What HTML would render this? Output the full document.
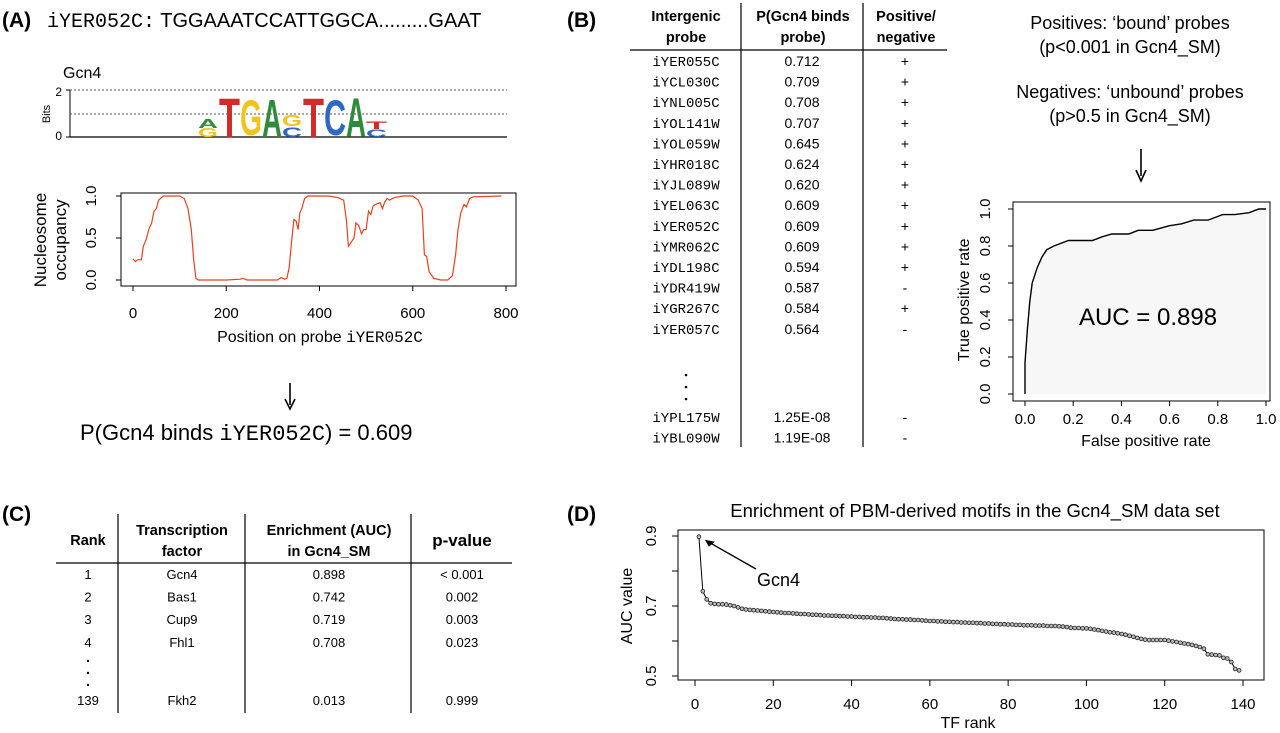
<!DOCTYPE html>
<html><head><meta charset="utf-8">
<style>
html,body{margin:0;padding:0;background:#fff;}
svg{display:block;font-family:"Liberation Sans",Arial,sans-serif;}
.mono{font-family:"Liberation Mono","DejaVu Sans Mono",monospace;}
.b{font-weight:bold;}
</style></head>
<body>
<svg id="fig" width="1280" height="733" viewBox="0 0 1280 733" xmlns="http://www.w3.org/2000/svg">
<!-- Panel A header -->
<g>
<text x="2" y="27" font-size="21" class="b">(A)</text>
<text x="47" y="27" font-size="20"><tspan class="mono">iYER052C:</tspan> TGGAAATCCATTGGCA.........GAAT</text>
<text x="63" y="78" font-size="16">Gcn4</text>
<g id="logo">
<line x1="70" y1="90" x2="70" y2="137" stroke="#000" stroke-width="1"/>
<line x1="70" y1="90" x2="507" y2="90" stroke="#555" stroke-dasharray="2,2"/>
<line x1="70" y1="114" x2="507" y2="114" stroke="#555" stroke-dasharray="2,2"/>
<line x1="70" y1="137" x2="507" y2="137" stroke="#000" stroke-width="1.2"/>
<line x1="66" y1="90" x2="70" y2="90" stroke="#000"/><line x1="66" y1="137" x2="70" y2="137" stroke="#000"/>
<text x="62" y="96" font-size="12" text-anchor="end">2</text>
<text x="62" y="140" font-size="12" text-anchor="end">0</text>
<text transform="translate(50,114) rotate(-90)" font-size="11" text-anchor="middle">Bits</text>
</g>
<g id="nuc"></g>
<text x="289" y="370" font-size="0"> </text>
<line x1="290" y1="383" x2="290" y2="405" stroke="#000" stroke-width="1.6"/>
<path d="M285,399 L290,409 L295,399" fill="none" stroke="#000" stroke-width="1.6"/>
<text x="80" y="440" font-size="22">P(Gcn4 binds <tspan class="mono">iYER052C</tspan>) = 0.609</text>
</g>

<!-- Panel B -->
<g id="panelB">
<text x="567" y="27" font-size="21" class="b">(B)</text>
<g font-size="14.5" class="b" text-anchor="middle">
<text x="686" y="21">Intergenic</text><text x="686" y="42">probe</text>
<text x="803" y="21">P(Gcn4 binds</text><text x="803" y="42">probe)</text>
<text x="906" y="21">Positive/</text><text x="906" y="42">negative</text>
</g>
<line x1="630" y1="50" x2="947" y2="50" stroke="#000" stroke-width="1.2"/>
<line x1="741" y1="3" x2="741" y2="447" stroke="#000" stroke-width="1.2"/>
<line x1="863" y1="3" x2="863" y2="447" stroke="#000" stroke-width="1.2"/>
<g id="tableB"></g>
<g font-size="18" text-anchor="middle">
<text x="1130" y="29">Positives: ‘bound’ probes</text>
<text x="1130" y="53">(p&lt;0.001 in Gcn4_SM)</text>
<text x="1130" y="98">Negatives: ‘unbound’ probes</text>
<text x="1130" y="122">(p&gt;0.5 in Gcn4_SM)</text>
</g>
<line x1="1141" y1="149" x2="1141" y2="176" stroke="#000" stroke-width="1.6"/>
<path d="M1136,170 L1141,181 L1146,170" fill="none" stroke="#000" stroke-width="1.6"/>
<g id="roc"></g>
</g>

<!-- Panel C -->
<g>
<text x="2" y="521" font-size="21" class="b">(C)</text>
<g font-size="14.5" class="b" text-anchor="middle">
<text x="88" y="545">Rank</text>
<text x="182" y="535">Transcription</text><text x="182" y="556">factor</text>
<text x="329" y="535">Enrichment (AUC)</text><text x="329" y="556">in Gcn4_SM</text>
<text x="462" y="546" font-size="17">p-value</text>
</g>
<line x1="56" y1="563" x2="512" y2="563" stroke="#000" stroke-width="1.2"/>
<line x1="118" y1="514" x2="118" y2="713" stroke="#000" stroke-width="1.2"/>
<line x1="245" y1="514" x2="245" y2="713" stroke="#000" stroke-width="1.2"/>
<line x1="411" y1="514" x2="411" y2="713" stroke="#000" stroke-width="1.2"/>
<g id="tableC" font-size="13" text-anchor="middle"></g>
</g>

<!-- Panel D -->
<g>
<text x="567" y="521" font-size="21" class="b">(D)</text>
<text x="975" y="517" font-size="18.5" text-anchor="middle">Enrichment of PBM-derived motifs in the Gcn4_SM data set</text>
<g id="dplot"></g>
</g>
</svg>
<script>
const NS='http://www.w3.org/2000/svg';
function mk(tag,attrs,parent,txt){const e=document.createElementNS(NS,tag);for(const k in attrs)e.setAttribute(k,attrs[k]);if(txt!==undefined)e.textContent=txt;parent.appendChild(e);return e;}

// ---------- Panel A: logo ----------
const logoChars=['A','G','T','G','A','G','C','T','C','A','T','C'];
const logoColors={A:'#2f8a3b',C:'#2e67c4',G:'#f2c31c',T:'#d32a27'};
const logoX0=[198,198,219,240,262,282,282,303,324,346,366,366];
const logoW=[20,20,21,22,20,20,20,21,22,20,21,21];
const logoTop=[119,128,97,99,98,115,127,97,99,97,121,129];
const logoBot=[128,137,137,135,137,126,137,137,135,137,129,137];
const logo=document.getElementById('logo');
for(let i=0;i<logoChars.length;i++){
  const h=logoBot[i]-logoTop[i];
  const fs=h/0.72;
  const t=mk('text',{x:0,y:0,'font-size':fs.toFixed(2),'font-weight':'bold',fill:logoColors[logoChars[i]],textLength:logoW[i],lengthAdjust:'spacingAndGlyphs',transform:`translate(${logoX0[i]},${logoBot[i]})`},logo,logoChars[i]);
  
  
}

// ---------- Panel A: nucleosome occupancy ----------
const nucPos=[0,5,10,18,22,28,35,40,45,50,55,65,100,110,118,125,130,135,140,200,230,236,245,310,318,325,330,335,340,345,350,354,358,362,368,375,420,440,452,458,462,468,474,478,484,490,495,500,505,510,515,520,530,535,540,545,550,560,580,600,612,620,625,630,635,645,660,675,685,692,697,703,710,715,722,730,790];
const nucOcc=[0.25,0.22,0.24,0.24,0.4,0.48,0.62,0.68,0.82,0.85,0.95,1.0,1.0,0.97,0.85,0.6,0.25,0.02,0.0,0.0,0.01,0.02,0.0,0.0,0.03,0.01,0.02,0.15,0.45,0.72,0.7,0.6,0.8,0.85,0.97,1.0,1.0,0.98,0.95,0.7,0.4,0.45,0.5,0.68,0.65,0.55,0.6,0.6,0.82,0.78,0.88,0.9,0.92,0.85,0.93,0.97,0.95,0.98,1.0,1.0,0.95,0.85,0.3,0.28,0.1,0.02,0.0,0.0,0.05,0.3,0.6,0.8,0.9,0.87,0.97,0.99,1.0];
const nucXTicks=[0,200,400,600,800];
const nucYTicks=[0.0,0.5,1.0];
(function(){
  const g=document.getElementById('nuc');
  const L=121,R=516,T=193,B=286;
  const sx=v=>133+(v/800)*(506-133);
  const sy=v=>280-(v)*(280-196);
  mk('rect',{x:L,y:T,width:R-L,height:B-T,fill:'none',stroke:'#000','stroke-width':1},g);
  let d='';nucPos.forEach((p,i)=>{d+=(i?'L':'M')+sx(p).toFixed(1)+','+sy(nucOcc[i]).toFixed(1);});
  const ln=mk('path',{d:d,fill:'none',stroke:'#e8411e','stroke-width':1.2},g);
  
  
  nucXTicks.forEach(v=>{mk('line',{x1:sx(v),y1:B,x2:sx(v),y2:B+5,stroke:'#000'},g);mk('text',{x:sx(v),y:318,'font-size':15,'text-anchor':'middle'},g,String(v));});
  nucYTicks.forEach(v=>{mk('line',{x1:L,y1:sy(v),x2:L-5,y2:sy(v),stroke:'#000'},g);mk('text',{transform:`translate(96,${sy(v)}) rotate(-90)`,'font-size':15,'text-anchor':'middle'},g,v.toFixed(1));});
  mk('line',{x1:sx(0),y1:B+5,x2:sx(800),y2:B+5,stroke:'#fff','stroke-width':0},g);
  const xl=mk('text',{x:320,y:342,'font-size':16,'text-anchor':'middle'},g);
  xl.innerHTML='Position on probe <tspan font-family="Liberation Mono, monospace">iYER052C</tspan>';
  
  
  mk('text',{transform:'translate(46,240) rotate(-90)','font-size':17,'text-anchor':'middle'},g,'Nucleosome');
  mk('text',{transform:'translate(66,240) rotate(-90)','font-size':17,'text-anchor':'middle'},g,'occupancy');
})();

// ---------- Panel B: table ----------
const probes=['iYER055C','iYCL030C','iYNL005C','iYOL141W','iYOL059W','iYHR018C','iYJL089W','iYEL063C','iYER052C','iYMR062C','iYDL198C','iYDR419W','iYGR267C','iYER057C'];
const probVals=['0.712','0.709','0.708','0.707','0.645','0.624','0.620','0.609','0.609','0.609','0.594','0.587','0.584','0.564'];
const signs=['+','+','+','+','+','+','+','+','+','+','+','-','+','-'];
const tailProbes=['iYPL175W','iYBL090W'];
const tailVals=['1.25E-08','1.19E-08'];
const tailSigns=['-','-'];
(function(){
  const g=document.getElementById('tableB');
  const row=(y,p,v,s)=>{
    mk('text',{x:686,y:y,'font-size':14,'text-anchor':'middle','font-family':'Liberation Mono, monospace'},g,p);
    mk('text',{x:802,y:y,'font-size':14,'text-anchor':'middle'},g,v);
    mk('text',{x:905,y:y,'font-size':14,'text-anchor':'middle'},g,s);
  };
  probes.forEach((p,i)=>row(66+i*20.6,p,probVals[i],signs[i]));
  [375,387,399].forEach(y=>mk('circle',{cx:686,cy:y,r:1.3,fill:'#000'},g));
  tailProbes.forEach((p,i)=>row(422+i*20.6,p,tailVals[i],tailSigns[i]));
})();

// ---------- Panel B: ROC ----------
const rocFpr=[0,0,0.01,0.02,0.03,0.05,0.07,0.09,0.12,0.18,0.28,0.32,0.36,0.43,0.47,0.53,0.6,0.65,0.7,0.76,0.82,0.87,0.93,0.97,1.0];
const rocTpr=[0,0.17,0.35,0.5,0.6,0.68,0.74,0.78,0.8,0.83,0.83,0.85,0.865,0.865,0.885,0.885,0.91,0.92,0.94,0.94,0.97,0.97,0.98,1.0,1.0];
const rocTicks=[0,0.2,0.4,0.6,0.8,1.0];
(function(){
  const g=document.getElementById('roc');
  const L=1013,R=1270,T=202,B=401;
  const sx=v=>1025+v*(1266-1025);
  const sy=v=>394-v*(394-209);
  mk('rect',{x:L,y:T,width:R-L,height:B-T,fill:'none',stroke:'#000','stroke-width':1},g);
  let d='';rocFpr.forEach((f,i)=>{d+=(i?'L':'M')+sx(f).toFixed(1)+','+sy(rocTpr[i]).toFixed(1);});
  mk('path',{d:d+'L'+sx(1)+','+sy(0)+'Z',fill:'#f7f7f7',stroke:'none'},g);
  const ln=mk('path',{d:d,fill:'none',stroke:'#000','stroke-width':1.4},g);
  
  
  rocTicks.forEach(v=>{
    mk('line',{x1:sx(v),y1:B,x2:sx(v),y2:B+5,stroke:'#000'},g);
    mk('text',{x:sx(v),y:424,'font-size':15,'text-anchor':'middle'},g,v.toFixed(1));
    mk('line',{x1:L,y1:sy(v),x2:L-5,y2:sy(v),stroke:'#000'},g);
    mk('text',{transform:`translate(990,${sy(v)}) rotate(-90)`,'font-size':15,'text-anchor':'middle'},g,v.toFixed(1));
  });
  mk('text',{x:1146,y:446,'font-size':16,'text-anchor':'middle'},g,'False positive rate');
  mk('text',{transform:'translate(969,300) rotate(-90)','font-size':16,'text-anchor':'middle'},g,'True positive rate');
  const a=mk('text',{x:1148,y:325,'font-size':24,'text-anchor':'middle'},g,'AUC = 0.898');
  
  
})();

// ---------- Panel C: table ----------
const ranks=['1','2','3','4'];
const tfs=['Gcn4','Bas1','Cup9','Fhl1'];
const aucs=['0.898','0.742','0.719','0.708'];
const pvals=['< 0.001','0.002','0.003','0.023'];
(function(){
  const g=document.getElementById('tableC');
  const row=(y,a,b,c,d)=>{mk('text',{x:88,y:y},g,a);mk('text',{x:182,y:y},g,b);mk('text',{x:329,y:y},g,c);mk('text',{x:462,y:y},g,d);};
  ranks.forEach((r,i)=>row(579+i*22.6,r,tfs[i],aucs[i],pvals[i]));
  [661,673,685].forEach(y=>mk('circle',{cx:88,cy:y,r:1.2,fill:'#000'},g));
  row(705,'139','Fkh2','0.013','0.999');
})();

// ---------- Panel D ----------
const tfRank=[];for(let i=1;i<=139;i++)tfRank.push(i);
const aucValues=[0.898,0.742,0.719,0.708,0.706,0.705,0.705,0.704,0.702,0.700,
0.696,0.692,0.690,0.689,0.688,0.687,0.686,0.685,0.684,0.683,
0.682,0.681,0.680,0.680,0.679,0.678,0.677,0.677,0.676,0.675,
0.675,0.674,0.673,0.673,0.672,0.672,0.671,0.671,0.670,0.670,
0.669,0.669,0.668,0.668,0.667,0.667,0.666,0.666,0.665,0.664,
0.663,0.662,0.662,0.661,0.661,0.660,0.660,0.659,0.658,0.657,
0.657,0.656,0.656,0.655,0.655,0.654,0.654,0.653,0.653,0.652,
0.652,0.651,0.651,0.650,0.650,0.649,0.649,0.648,0.648,0.647,
0.647,0.646,0.646,0.645,0.645,0.645,0.644,0.644,0.644,0.643,
0.643,0.643,0.642,0.641,0.640,0.638,0.637,0.637,0.636,0.636,
0.635,0.633,0.631,0.629,0.627,0.625,0.624,0.622,0.620,0.618,
0.615,0.612,0.609,0.606,0.604,0.603,0.603,0.603,0.603,0.603,
0.601,0.599,0.597,0.595,0.593,0.591,0.589,0.586,0.583,0.578,
0.562,0.561,0.560,0.559,0.552,0.550,0.540,0.520,0.516];
const dXTicks=[0,20,40,60,80,100,120,140];
const dYTicks=[0.5,0.6,0.7,0.8,0.9];
const dYLabels=['0.5','','0.7','','0.9'];
(function(){
  const g=document.getElementById('dplot');
  const L=678,R=1264,T=530,B=680;
  const sx=v=>695+(v/140)*(1243-695);
  const sy=v=>676-(v-0.5)*((676-536)/0.4);
  mk('rect',{x:L,y:T,width:R-L,height:B-T,fill:'none',stroke:'#000','stroke-width':1},g);
  let d='';tfRank.forEach((r,i)=>{d+=(i?'L':'M')+sx(r).toFixed(1)+','+sy(aucValues[i]).toFixed(1);});
  const ln=mk('path',{d:d,fill:'none',stroke:'#000','stroke-width':1},g);
  
  
  tfRank.forEach((r,i)=>{
    const c=mk('circle',{cx:sx(r).toFixed(1),cy:sy(aucValues[i]).toFixed(1),r:1.9,fill:'#bbb',stroke:'#222','stroke-width':0.8},g);
    
    
  });
  dXTicks.forEach(v=>{mk('line',{x1:sx(v),y1:B,x2:sx(v),y2:B+6,stroke:'#000'},g);mk('text',{x:sx(v),y:709,'font-size':15,'text-anchor':'middle'},g,String(v));});
  dYTicks.forEach((v,i)=>{mk('line',{x1:L,y1:sy(v),x2:L-6,y2:sy(v),stroke:'#000'},g);if(dYLabels[i])mk('text',{transform:`translate(656,${sy(v)}) rotate(-90)`,'font-size':15,'text-anchor':'middle'},g,dYLabels[i]);});
  mk('text',{x:968,y:728,'font-size':16,'text-anchor':'middle'},g,'TF rank');
  mk('text',{transform:'translate(632,606) rotate(-90)','font-size':16,'text-anchor':'middle'},g,'AUC value');
  const ax=sx(tfRank[0])+6, ay=sy(aucValues[0])+3;
  mk('line',{x1:756,y1:569,x2:ax+3,y2:ay+2,stroke:'#000','stroke-width':1.4},g);
  mk('path',{d:`M${ax},${ay} l10,2 l-6,5 z`,fill:'#000'},g);
  const lab=mk('text',{x:757,y:586,'font-size':18},g,'Gcn4');
  
  
})();
</script>
</body></html>
